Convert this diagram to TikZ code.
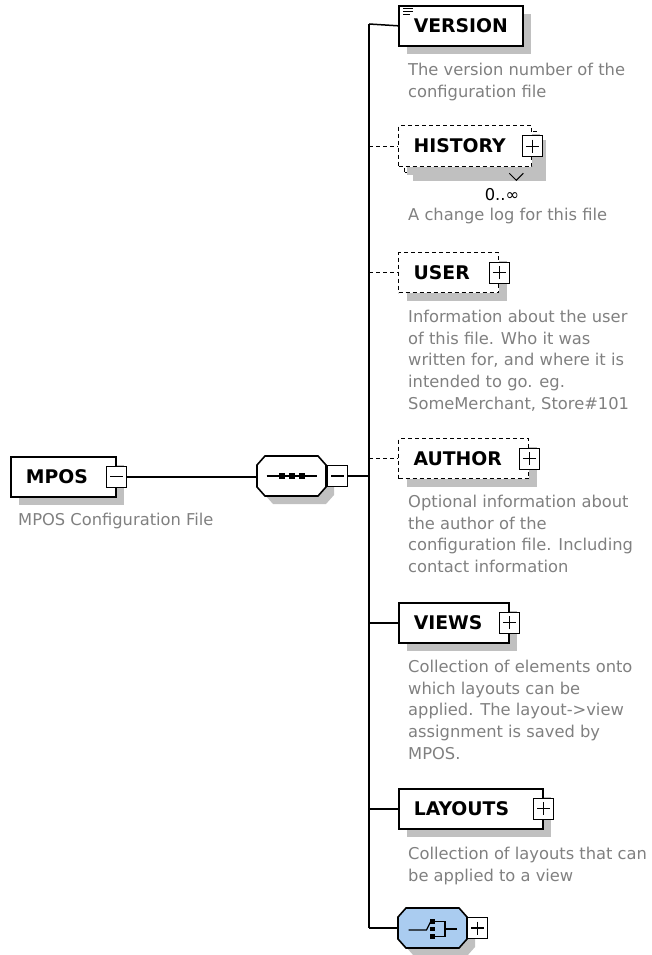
\documentclass[tikz,border=0pt]{standalone}
\usepackage{fontspec}
\setmainfont{DejaVu Sans}
\usetikzlibrary{calc}
\definecolor{shadowgray}{RGB}{192,192,192}
\definecolor{notegray}{RGB}{128,128,128}
\definecolor{choiceblue}{RGB}{170,204,240}
\newcommand{\elemfont}{\fontsize{18.8}{22}\selectfont\bfseries}
\newcommand{\notefont}{\fontsize{16.3}{21.7}\selectfont}

\tikzset{
  shadowed/.style={preaction={fill=shadowgray, transform canvas={shift={(8pt,-8pt)}}}},
  elem/.style={shadowed, draw, line width=1.6pt, fill=white, font=\elemfont, inner xsep=15pt, inner ysep=0pt, minimum height=40pt, align=left, anchor=north west},
  optelem/.style={elem, line width=1.3pt, dash pattern=on 4pt off 3pt},
  plusbox/.style={draw, line width=1.2pt, fill=white, minimum width=20pt, minimum height=21pt, inner sep=0pt,
    path picture={\draw[line width=1.3pt] ($(path picture bounding box.center)+(-6.5,0)$) -- ++(13pt,0pt) ($(path picture bounding box.center)+(0,-6.5)$) -- ++(0pt,-13pt);}},
  minusbox/.style={draw, line width=1.2pt, fill=white, minimum width=20pt, minimum height=21pt, inner sep=0pt,
    path picture={\draw[line width=1.3pt] ($(path picture bounding box.center)+(-6.5,0)$) -- ++(13pt,0pt);}},
  compositor/.style={minimum width=69pt, minimum height=40pt, inner sep=0pt},
  compositorshape/.pic={\path[pic actions] (-34.5,-11) -- (-26.5,-20) -- (26.5,-20) -- (34.5,-11) -- (34.5,11) -- (26.5,20) -- (-26.5,20) -- (-34.5,11) -- cycle;},
  note/.style={font=\notefont, text=notegray, align=left, anchor=north west, inner sep=0pt},
  link/.style={line width=1.5pt},
  optlink/.style={line width=1.3pt, dash pattern=on 4pt off 3pt}
}

\begin{document}
\begin{tikzpicture}[x=1pt, y=-1pt]
  \useasboundingbox (0,0) rectangle (651,955);

  \node[elem, text width=75pt] (mpos) at (10,456) {MPOS};
  \node[minusbox] (mposminus) at (mpos.east) {};
  \node[note] (mposnote) at (18,513) {MPOS Configuration File};

  \node[compositor] (seq) at (291.5,476) {};
  \pic[fill=shadowgray] at ($(seq.center)+(8,8)$) {compositorshape};
  \pic[draw, fill=white, line width=1.6pt] at (seq.center) {compositorshape};
  \node[minusbox, anchor=west] (seqminus) at ([xshift=1pt]seq.east) {};
  \draw[line width=1.2pt] ($(seq.center)+(-25,0)$) -- ($(seq.center)+(25,0)$);
  \foreach \dx in {-10,0,10}
    \fill ($(seq.center)+(\dx,0)+(-3,-3)$) rectangle ++(6pt,-6pt);

  \coordinate (top) at (369,24);
  \coordinate (bottom) at (369,928);

  \node[elem, text width=94pt] (version) at (398,5) {VERSION};
  \draw[line width=1pt] (403,9) -- ++(10,0) (403,12) -- ++(10,0) (403,15) -- ++(7,0);
  \node[note] (versionnote) at (408,63) {The version number of the\\configuration file};

  \node[optelem, minimum width=133pt, minimum height=41pt, inner sep=0pt] (historyback) at (404,131) {};
  \node[optelem, text width=103pt, minimum height=41pt] (history) at (398,125) {HISTORY};
  \draw[line width=1pt] ([xshift=-29pt]historyback.south east) -- ++(7pt,-7pt) -- ++(7pt,7pt);
  \node[plusbox] (historyplus) at (history.east) {};
  \node[font=\notefont, anchor=base] (historymult) at (502,200) {0..∞};
  \node[note] (historynote) at (408,208) {A change log for this file};

  \node[optelem, text width=70pt] (user) at (398,252) {USER};
  \node[plusbox] (userplus) at (user.east) {};
  \node[note] (usernote) at (408,310) {Information about the user\\of this file. Who it was\\written for, and where it is\\intended to go. eg.\\SomeMerchant, Store\#101};

  \node[optelem, text width=100pt] (author) at (398,438) {AUTHOR};
  \node[plusbox] (authorplus) at (author.east) {};
  \node[note] (authornote) at (408,495) {Optional information about\\the author of the\\configuration file. Including\\contact information};

  \node[elem, text width=80pt] (views) at (398,602) {VIEWS};
  \node[plusbox] (viewsplus) at (views.east) {};
  \node[note] (viewsnote) at (408,660) {Collection of elements onto\\which layouts can be\\applied. The layout->view\\assignment is saved by\\MPOS.};

  \node[elem, text width=114pt] (layouts) at (398,788) {LAYOUTS};
  \node[plusbox] (layoutsplus) at (layouts.east) {};
  \node[note] (layoutsnote) at (408,847) {Collection of layouts that can\\be applied to a view};

  \node[compositor] (choice) at (432.5,928) {};
  \pic[fill=shadowgray] at ($(choice.center)+(8,8)$) {compositorshape};
  \pic[draw, fill=choiceblue, line width=1.6pt] at (choice.center) {compositorshape};
  \node[plusbox, anchor=west] (choiceplus) at (choice.east) {};
  \begin{scope}[shift={(choice.center)}, line width=1.2pt]
    \draw (-24,2) -- (-6,2) -- (-1.5,-7);
    \foreach \dy in {-6.5,1,8.5}
      \fill (-2.2,\dy-2.2) rectangle ++(4.4pt,-4.4pt);
    \draw (2.5,-6.5) -- (12.5,-6.5) -- (12.5,8.5) -- (2.5,8.5);
    \draw (12.5,1) -- (24.5,1);
  \end{scope}

  \draw[link] (mposminus.east) -- (mposminus.east -| seq.west);
  \draw[link] (seqminus.east) -- (seqminus.east -| top);
  \draw[link] (top) -- (bottom);
  \draw[link] (top) -- (version.west);
  \draw[optlink] (top |- history.west) -- (history.west);
  \draw[optlink] (top |- user.west) -- (user.west);
  \draw[optlink] (top |- author.west) -- (author.west);
  \draw[link] (top |- views.west) -- (views.west);
  \draw[link] (top |- layouts.west) -- (layouts.west);
  \draw[link] (bottom) -- (choice.west);
\end{tikzpicture}
\end{document}
